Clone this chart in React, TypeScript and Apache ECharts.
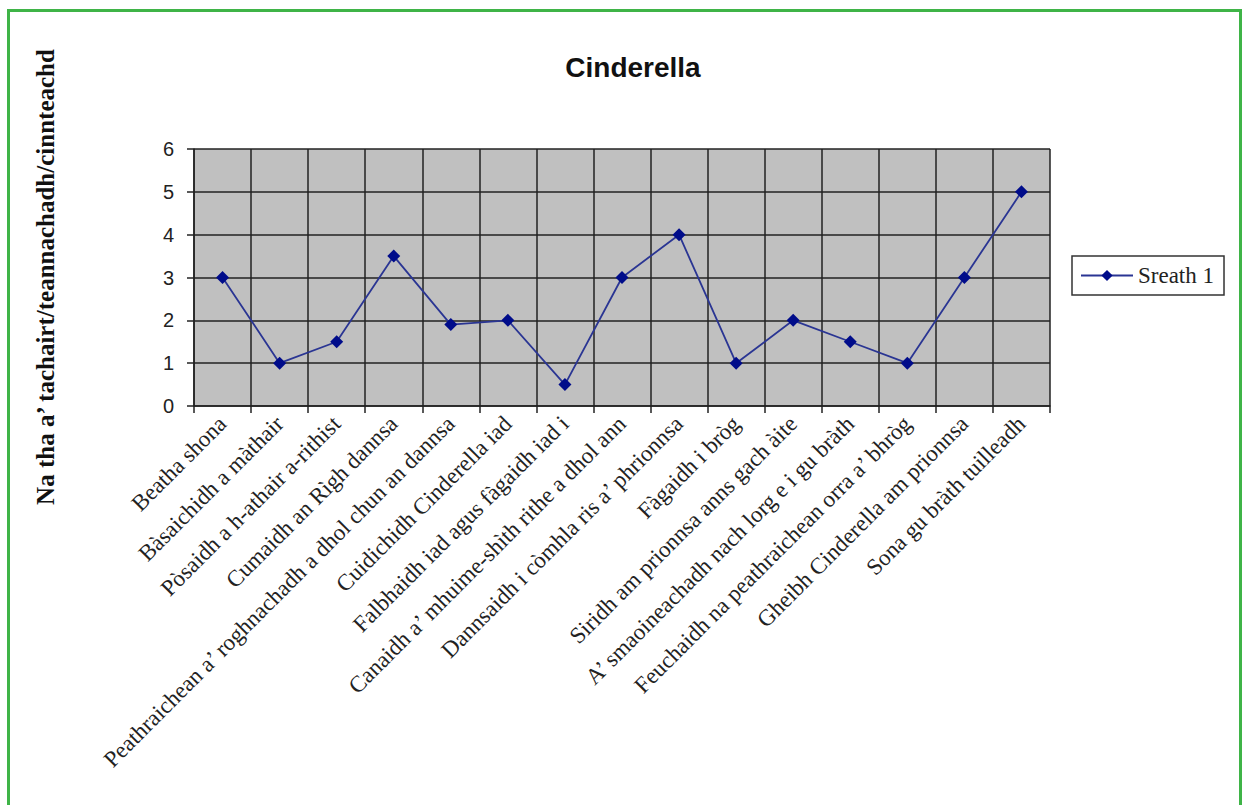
import React, { useEffect, useRef } from "react";
import * as echarts from "echarts";

const categories = [
  "Beatha shona",
  "Bàsaichidh a màthair",
  "Pòsaidh a h-athair a-rithist",
  "Cumaidh an Rìgh dannsa",
  "Peathraichean a’ roghnachadh a dhol chun an dannsa",
  "Cuidichidh Cinderella iad",
  "Falbhaidh iad agus fàgaidh iad i",
  "Canaidh a’ mhuime-shìth rithe a dhol ann",
  "Dannsaidh i còmhla ris a’ phrionnsa",
  "Fàgaidh i bròg",
  "Siridh am prionnsa anns gach àite",
  "A’ smaoineachadh nach lorg e i gu bràth",
  "Feuchaidh na peathraichean orra a’ bhròg",
  "Gheibh Cinderella am prionnsa",
  "Sona gu bràth tuilleadh",
];

const seriesValues = [3, 1, 1.5, 3.5, 1.9, 2, 0.5, 3, 4, 1, 2, 1.5, 1, 3, 5];

const seriesName = "Sreath 1";
const chartTitle = "Cinderella";
const yAxisTitle = "Na tha a’ tachairt/teannachadh/cinnteachd";

export default function App() {
  const ref = useRef<HTMLDivElement>(null);
  useEffect(() => {
    if (!ref.current) return;
    const chart = echarts.init(ref.current, undefined, { renderer: "svg" });
    const serif = "'Liberation Serif', 'DejaVu Serif', serif";
    const sans = "'Liberation Sans', Arial, sans-serif";
    chart.setOption({
      animation: false,
      backgroundColor: "#ffffff",
      graphic: [
        {
          type: "rect",
          shape: { x: 8.5, y: 10.5, width: 1232, height: 820 },
          style: { fill: "none", stroke: "#3fb447", lineWidth: 3 },
          silent: true,
        },
        {
          type: "text",
          x: 633,
          y: 67,
          style: {
            text: chartTitle,
            font: `bold 28px ${sans}`,
            fill: "#111",
            align: "center",
            verticalAlign: "middle",
          },
        },
        {
          type: "text",
          x: 45,
          y: 277,
          rotation: Math.PI / 2,
          style: {
            text: yAxisTitle,
            font: `bold 25px ${serif}`,
            fill: "#111",
            align: "center",
            verticalAlign: "middle",
          },
        },
      ],
      grid: {
        left: 194,
        right: 196,
        top: 149,
        bottom: 399,
        show: true,
        backgroundColor: "#c0c0c0",
        borderWidth: 0,
      },
      legend: {
        show: true,
        left: 1072,
        top: 256,
        orient: "vertical",
        borderColor: "#333",
        borderWidth: 1.5,
        borderRadius: 0,
        padding: [8, 10, 8, 8],
        itemWidth: 52,
        itemHeight: 14,
        itemGap: 6,
        textStyle: { fontFamily: serif, fontSize: 23, color: "#222" },
        data: [seriesName],
      },
      xAxis: {
        type: "category",
        data: categories,
        boundaryGap: true,
        axisLine: { show: true, lineStyle: { color: "#222", width: 1.5 } },
        axisTick: { show: true, length: 7, lineStyle: { color: "#222", width: 1.5 } },
        splitLine: { show: true, lineStyle: { color: "#222", width: 1.5 } },
        axisLabel: {
          interval: 0,
          rotate: 45,
          margin: 14,
          fontFamily: serif,
          fontSize: 23,
          color: "#222",
        },
      },
      yAxis: {
        type: "value",
        min: 0,
        max: 6,
        interval: 1,
        axisLine: { show: true, lineStyle: { color: "#222", width: 1.5 } },
        axisTick: { show: true, length: 7, lineStyle: { color: "#222", width: 1.5 } },
        splitLine: { show: true, lineStyle: { color: "#222", width: 1.5 } },
        axisLabel: { fontFamily: sans, fontSize: 20, color: "#222", margin: 20 },
      },
      series: [
        {
          name: seriesName,
          type: "line",
          data: seriesValues,
          symbol: "diamond",
          symbolSize: 13,
          lineStyle: { color: "#2a3593", width: 1.8 },
          itemStyle: { color: "#000c8a", borderWidth: 0 },
        },
      ],
    });
    return () => chart.dispose();
  }, []);
  return (
    <div
      ref={ref}
      style={{ position: "absolute", left: 0, top: 0, width: 1246, height: 805 }}
    />
  );
}
